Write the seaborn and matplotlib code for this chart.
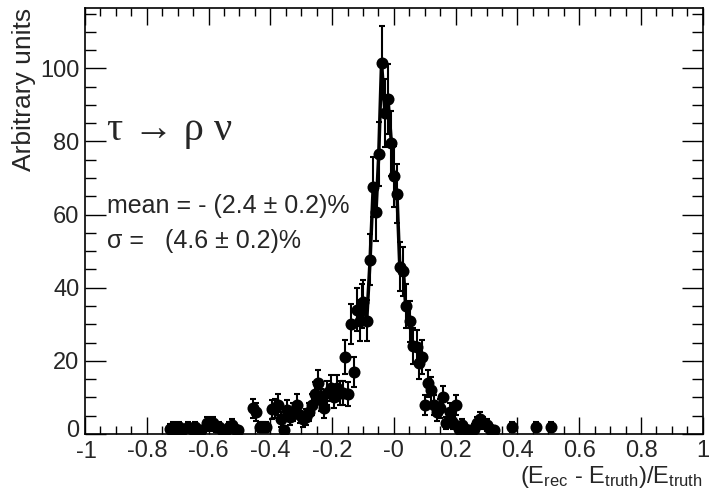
import numpy as np
import pandas as pd
import matplotlib.pyplot as plt
import matplotlib.transforms as mtransforms
import seaborn as sns
from matplotlib.ticker import MultipleLocator, FixedLocator, FixedFormatter

sns.set_style("ticks")
plt.rcParams['font.family'] = ['Liberation Sans', 'DejaVu Sans']
plt.rcParams['mathtext.fontset'] = 'custom'
plt.rcParams['mathtext.rm'] = 'Liberation Sans'
plt.rcParams['mathtext.it'] = 'Liberation Sans:italic'

# relative energy resolution, bin centres and content
x_vals = [-0.725, -0.715, -0.705, -0.695, -0.685, -0.665, -0.655, -0.645, -0.635, -0.625,
          -0.605, -0.595, -0.585, -0.575, -0.565, -0.555, -0.545, -0.535, -0.525, -0.515,
          -0.505, -0.455, -0.445, -0.435, -0.425, -0.415, -0.395, -0.385, -0.375, -0.365,
          -0.355, -0.345, -0.335, -0.325, -0.315, -0.305, -0.295, -0.285, -0.275, -0.265,
          -0.255, -0.245, -0.235, -0.225, -0.215, -0.205, -0.195, -0.185, -0.175, -0.165,
          -0.157, -0.147, -0.139, -0.128, -0.120, -0.111, -0.104, -0.099, -0.088, -0.077,
          -0.067, -0.058, -0.049, -0.040, -0.029, -0.019, -0.008, 0.000, 0.010, 0.019,
          0.031, 0.038, 0.051, 0.061, 0.074, 0.081, 0.091, 0.100, 0.109, 0.120,
          0.130, 0.141, 0.150, 0.160, 0.170, 0.180, 0.190, 0.200, 0.210, 0.220,
          0.230, 0.240, 0.250, 0.260, 0.270, 0.278, 0.290, 0.300, 0.312, 0.325,
          0.381, 0.459, 0.507]
y_vals = [1.5, 2, 1, 2, 1, 2, 1.5, 2, 1, 1,
          3, 2.5, 3, 2, 2, 1, 1, 2, 2.5, 1.5,
          1, 7, 6, 2, 2, 2, 6.8, 7, 8, 4,
          1, 6.6, 4.7, 6, 8, 5.2, 4, 4.7, 6, 8,
          11, 13.9, 9.3, 7, 11.2, 12.6, 10.2, 12.6, 11.2, 11.2,
          21, 11, 30, 17, 34, 31, 35, 36, 31, 47.7,
          67.6, 60.6, 76.5, 101.6, 87.8, 91.5, 79.5, 70.5, 65.7, 45.8,
          44.5, 35, 30.8, 24, 23.7, 19.4, 21, 7.9, 13.9, 12,
          7.9, 6, 7, 10, 3, 6.1, 3, 7.9, 1.5, 2.5,
          1.5, 1, 1, 1.5, 3, 4, 3, 2.5, 1.5, 1,
          2, 2, 2]

xtick_pos = [-1, -0.8, -0.6, -0.4, -0.2, 0, 0.2, 0.4, 0.6, 0.8, 1]
xtick_labels = ['-1', '-0.8', '-0.6', '-0.4', '-0.2', '-0', '0.2', '0.4', '0.6', '0.8', '1']
ytick_pos = [0, 20, 40, 60, 80, 100]

df = pd.DataFrame({'x': x_vals, 'y': y_vals})
df['err'] = np.sqrt(df['y'])  # poisson errors
peak = df[(df['x'] > -0.106) & (df['x'] < 0.065)]

fig = plt.figure(figsize=(7.11, 4.95), dpi=100)
ax = fig.add_axes([0.1195, 0.1232, 0.869, 0.8606])

ax.errorbar(df['x'], df['y'], yerr=df['err'], fmt='none', ecolor='black',
            elinewidth=1.5, capsize=2.5, capthick=1.5, zorder=2)
sns.lineplot(data=peak, x='x', y='y', sort=False, estimator=None,
             color='black', linewidth=2.5, ax=ax, zorder=3)
sns.scatterplot(data=df, x='x', y='y', color='black', s=75, edgecolor='black',
                linewidth=0, ax=ax, zorder=4)

ax.set_xlim(-1, 1)
ax.set_ylim(0, 116.5)
ax.xaxis.set_major_locator(FixedLocator(xtick_pos))
ax.xaxis.set_major_formatter(FixedFormatter(xtick_labels))
ax.xaxis.set_minor_locator(MultipleLocator(0.05))
ax.yaxis.set_major_locator(FixedLocator(ytick_pos))
ax.yaxis.set_minor_locator(MultipleLocator(5))
ax.tick_params(which='both', direction='in', top=True, right=True,
               labelsize=17, width=1, color='black')
ax.tick_params(axis='x', which='major', length=12, pad=4)
ax.tick_params(axis='x', which='minor', length=6)
ax.tick_params(axis='y', which='major', length=15, pad=4)
ax.tick_params(axis='y', which='minor', length=8)
for s in ax.spines.values():
    s.set_linewidth(1.2)
    s.set_color('black')

ax.set_xlabel(r'(E$_{\rm rec}$ - E$_{\rm truth}$)/E$_{\rm truth}$', fontsize=17,
              loc='right', labelpad=1)
ax.set_ylabel('Arbitrary units', fontsize=19, loc='top', labelpad=3)

ax.text(0.035, 0.69, 'τ → ρ ν', transform=ax.transAxes, fontsize=29, va='baseline',
        family=['Liberation Serif', 'DejaVu Serif'])
ax.text(0.035, 0.519, 'mean = - (2.4 ± 0.2)%', transform=ax.transAxes, fontsize=18,
        va='baseline')
ax.text(0.035, 0.437, 'σ =   (4.6 ± 0.2)%', transform=ax.transAxes, fontsize=18,
        va='baseline')

# nudge the two labels at the corner apart, like in the original
fig.canvas.draw()
ylab0 = ax.get_yticklabels()[0]
ylab0.set_transform(ylab0.get_transform() + mtransforms.ScaledTranslation(0, 4 / 72, fig.dpi_scale_trans))
xlab0 = ax.get_xticklabels()[0]
xlab0.set_transform(xlab0.get_transform() + mtransforms.ScaledTranslation(1 / 72, -1 / 72, fig.dpi_scale_trans))

fig.savefig('out.png', dpi=100)
